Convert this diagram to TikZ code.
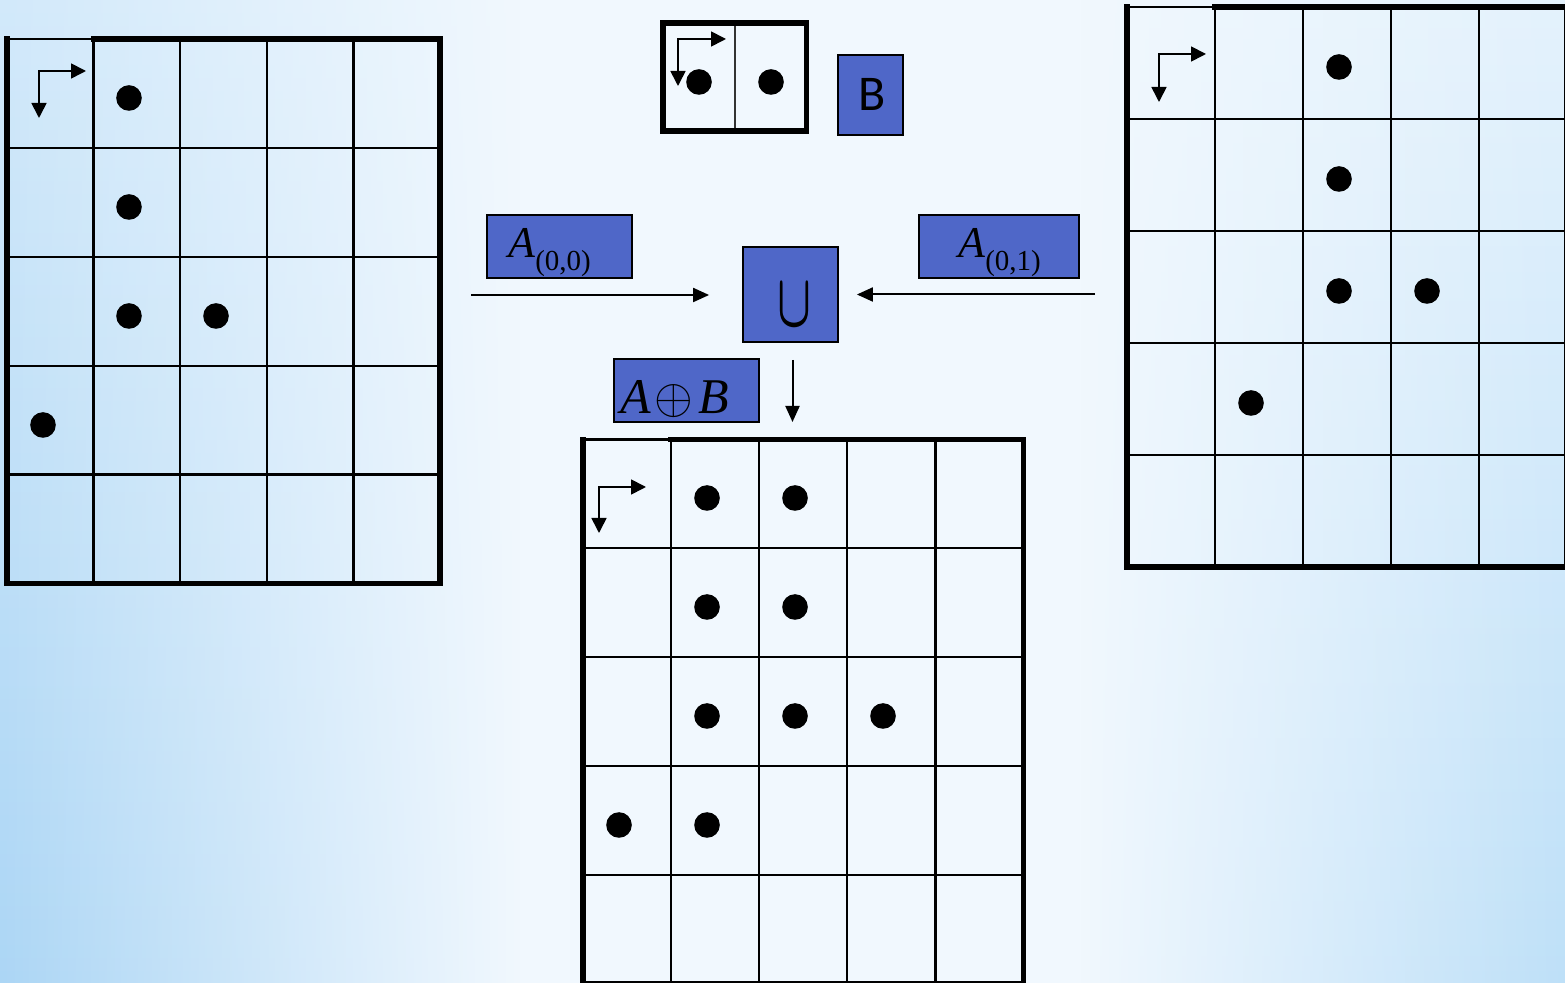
\documentclass[tikz,border=0pt]{standalone}
\usepackage{fontspec}
\usepackage{graphicx}
\setmainfont{Liberation Serif}
\newfontfamily\sansf{Carlito}
\usetikzlibrary{arrows.meta,fadings}
\definecolor{boxblue}{RGB}{79,103,200}
\definecolor{bgtop}{RGB}{241,248,254}
\definecolor{lefttop}{RGB}{210,233,250}
\definecolor{leftbot}{RGB}{172,214,245}
\definecolor{righttop}{RGB}{228,242,252}
\definecolor{rightbot}{RGB}{190,224,248}
\definecolor{bandblue}{RGB}{184,221,247}
\tikzfading[name=fadeE, left color=transparent!0, right color=transparent!100]
\tikzfading[name=fadeW, left color=transparent!100, right color=transparent!0]
\tikzfading[name=bandfade, top color=transparent!100, middle color=transparent!5, bottom color=transparent!100]
\tikzfading[name=midfade, left color=transparent!100, middle color=transparent!0, right color=transparent!100]
\tikzset{
  thinline/.style={line width=1.15pt},
  thickline/.style={line width=2.9pt, line cap=rect},
  dot/.style={circle, fill=black, inner sep=0pt, minimum size=12.8pt},
  bluebox/.style={draw=black, line width=0.9pt, fill=boxblue, inner sep=0pt},
  cornerarrow/.style={line width=0.85pt, arrows={Triangle[length=7.5pt,width=7.5pt]-Triangle[length=7.5pt,width=7.5pt]}},
  flowarrow/.style={line width=1pt, arrows={-Triangle[length=8pt,width=7pt]}},
}
% #1 x0, #2 y0, #3 cell width, #4 cell height
\newcommand{\cellgrid}[4]{%
  \foreach \i in {1,...,4} {
    \draw[thinline] ({#1+\i*#3},#2) -- ({#1+\i*#3},{#2+5*#4});
    \draw[thinline] (#1,{#2+\i*#4}) -- ({#1+5*#3},{#2+\i*#4});
  }
  \draw[thinline] (#1,#2) -- ({#1+#3},#2);
  \draw[thickline] ({#1+#3},#2) -- ({#1+5*#3},#2) -- ({#1+5*#3},{#2+5*#4}) -- (#1,{#2+5*#4}) -- (#1,#2);
}
\newcommand{\sublabel}[1]{{\fontsize{22}{22}\selectfont\itshape A}\raisebox{-6.5pt}{\fontsize{14.5}{14.5}\selectfont #1}}
\begin{document}
\begin{tikzpicture}[x=0.5pt,y=-0.5pt]
\useasboundingbox (0,0) rectangle (1565,983);
% background
\fill[bgtop] (0,0) rectangle (1565,983);
\shade[top color=lefttop, bottom color=leftbot, path fading=fadeE] (0,0) rectangle (520,983);
\shade[top color=righttop, bottom color=rightbot, path fading=fadeW] (1080,0) rectangle (1565,983);
\fill[bandblue, path fading=bandfade] (0,570) rectangle (1565,810);
\fill[white, path fading=midfade, opacity=0.85] (460,360) rectangle (1160,983);

% left grid
\cellgrid{7}{39}{86.6}{108.9}
\draw[cornerarrow] (39,118) -- (39,71) -- (86,71);
\node[dot] (l1) at (129,98) {};
\node[dot] (l2) at (129,207) {};
\node[dot] (l3) at (129,316) {};
\node[dot] (l4) at (216,316) {};
\node[dot] (l5) at (43,425) {};

% right grid
\cellgrid{1127}{7}{88}{112}
\draw[cornerarrow] (1159,102) -- (1159,54) -- (1206,54);
\node[dot] (r1) at (1339,67) {};
\node[dot] (r2) at (1339,179) {};
\node[dot] (r3) at (1339,291) {};
\node[dot] (r4) at (1427,291) {};
\node[dot] (r5) at (1251,403) {};

% bottom grid
\cellgrid{583}{439.5}{88.1}{108.8}
\draw[cornerarrow] (599,533) -- (599,487) -- (646,487);
\node[dot] (b1) at (707,498) {};
\node[dot] (b2) at (795,498) {};
\node[dot] (b3) at (707,607) {};
\node[dot] (b4) at (795,607) {};
\node[dot] (b5) at (707,716) {};
\node[dot] (b6) at (795,716) {};
\node[dot] (b7) at (883,716) {};
\node[dot] (b8) at (619,825) {};
\node[dot] (b9) at (707,825) {};

% structuring element B
\draw[thinline, draw=black!80] (735,23) -- (735,131);
\draw[thickline] (663,23) rectangle (806.5,131);
\draw[cornerarrow] (678,86) -- (678,39) -- (726,39);
\node[dot] (s1) at (699,82) {};
\node[dot] (s2) at (771,82) {};

% labels
\node[bluebox, minimum width=32.5pt, minimum height=40pt] (B) at (870.5,95) {};
\node[anchor=base, inner sep=0pt] (Bt) at (872.5,111) {\sansf\fontsize{25}{25}\selectfont B};

\node[bluebox, minimum width=72.5pt, minimum height=31.5pt] (A00) at (559.5,246.5) {};
\node[anchor=base west, inner sep=0pt] (A00t) at (508,258) {\sublabel{(0,0)}};

\node[bluebox, minimum width=80pt, minimum height=31.5pt] (A01) at (999,246.5) {};
\node[anchor=base west, inner sep=0pt] (A01t) at (958,258) {\sublabel{(0,1)}};

\node[bluebox, minimum width=47.5pt, minimum height=47.5pt] (U) at (790.5,294.5) {};
\node[inner sep=0pt] (Ut) at (794,305.5) {\resizebox{17pt}{21pt}{\boldmath$\cup$}};

\node[bluebox, minimum width=72.5pt, minimum height=31.5pt] (AB) at (686.5,390.5) {};
\node[anchor=base west, inner sep=0pt] (ABt) at (620,414) {\fontsize{25}{25}\selectfont\itshape A\hspace{2pt}$\oplus$\hspace{2.5pt}B};

% flow arrows
\coordinate (lin) at (471,295);
\coordinate (rin) at (1095,294.5);
\coordinate (dend) at (792.5,422);
\draw[flowarrow] (lin) -- ([xshift=-16.5pt]U.west |- lin);
\draw[flowarrow] (rin) -- ([xshift=9pt]U.east |- rin);
\draw[flowarrow] ([yshift=-8.5pt]U.south -| dend) -- (dend);
\end{tikzpicture}
\end{document}
